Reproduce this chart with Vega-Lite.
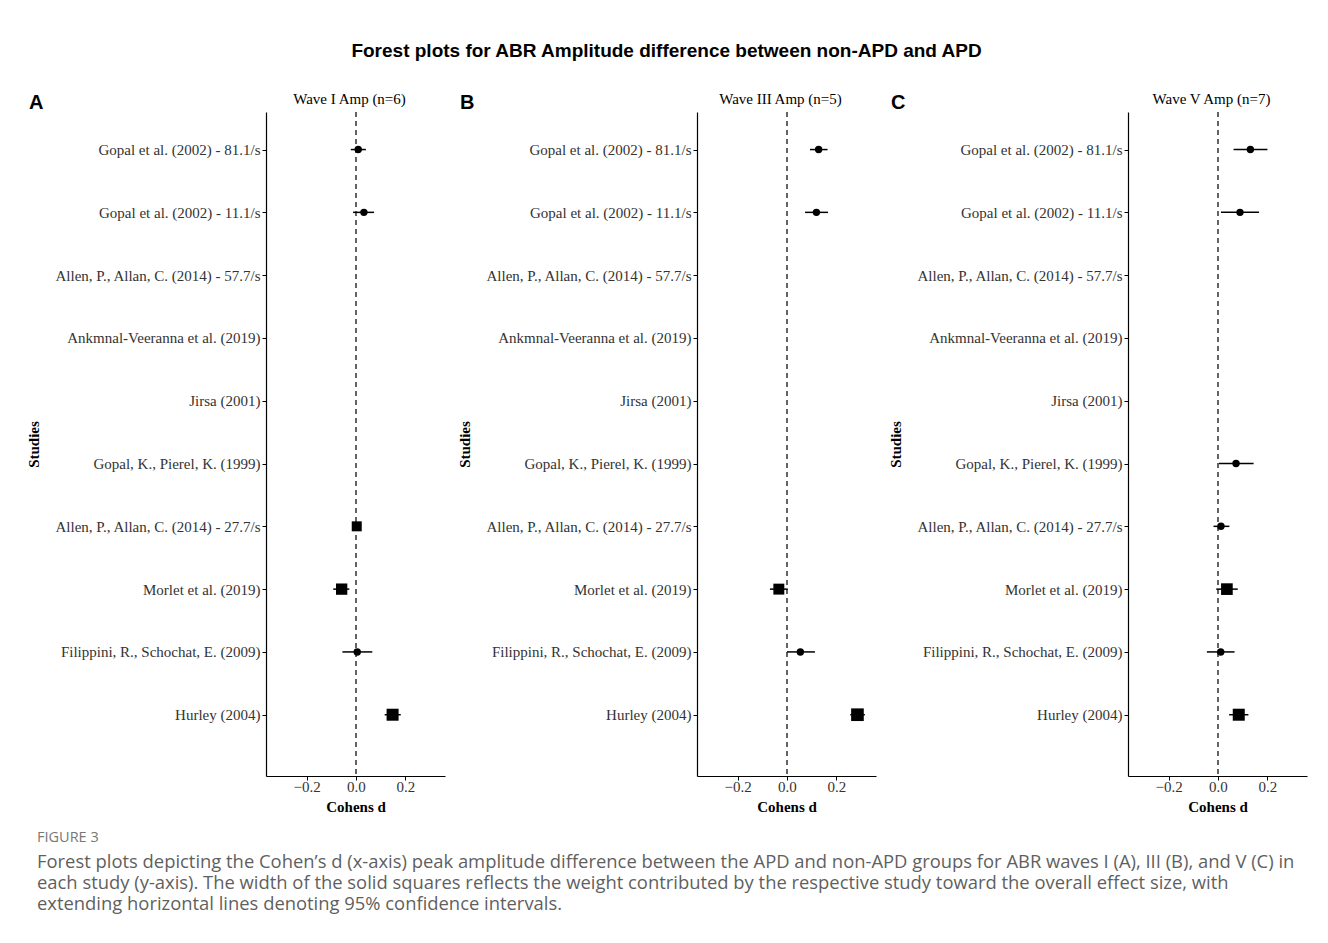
{
  "$schema": "https://vega.github.io/schema/vega-lite/v6.json",
  "background": "white",
  "padding": {"left": 26, "top": 42, "right": 5, "bottom": 5},
  "title": {
    "text": "Forest plots for ABR Amplitude difference between non-APD and APD",
    "font": "Liberation Sans", "fontSize": 19, "fontWeight": "bold", "color": "black",
    "anchor": "middle", "offset": 30
  },
  "datasets": {
    "forest": [
      {"panel": "A", "study": "Gopal et al. (2002) - 81.1/s", "est": 0.009, "lo": -0.021, "hi": 0.040, "weight": null},
      {"panel": "A", "study": "Gopal et al. (2002) - 11.1/s", "est": 0.032, "lo": -0.012, "hi": 0.073, "weight": null},
      {"panel": "A", "study": "Allen, P., Allan, C. (2014) - 27.7/s", "est": 0.003, "lo": -0.010, "hi": 0.016, "weight": 25},
      {"panel": "A", "study": "Morlet et al. (2019)", "est": -0.058, "lo": -0.092, "hi": -0.027, "weight": 32},
      {"panel": "A", "study": "Filippini, R., Schochat, E. (2009)", "est": 0.005, "lo": -0.055, "hi": 0.066, "weight": null},
      {"panel": "A", "study": "Hurley (2004)", "est": 0.148, "lo": 0.116, "hi": 0.181, "weight": 36},
      {"panel": "B", "study": "Gopal et al. (2002) - 81.1/s", "est": 0.128, "lo": 0.093, "hi": 0.164, "weight": null},
      {"panel": "B", "study": "Gopal et al. (2002) - 11.1/s", "est": 0.119, "lo": 0.073, "hi": 0.166, "weight": null},
      {"panel": "B", "study": "Morlet et al. (2019)", "est": -0.033, "lo": -0.069, "hi": 0.003, "weight": 30},
      {"panel": "B", "study": "Filippini, R., Schochat, E. (2009)", "est": 0.054, "lo": 0.0, "hi": 0.113, "weight": null},
      {"panel": "B", "study": "Hurley (2004)", "est": 0.285, "lo": 0.256, "hi": 0.315, "weight": 40},
      {"panel": "C", "study": "Gopal et al. (2002) - 81.1/s", "est": 0.131, "lo": 0.063, "hi": 0.200, "weight": null},
      {"panel": "C", "study": "Gopal et al. (2002) - 11.1/s", "est": 0.089, "lo": 0.012, "hi": 0.166, "weight": null},
      {"panel": "C", "study": "Gopal, K., Pierel, K. (1999)", "est": 0.073, "lo": 0.004, "hi": 0.144, "weight": null},
      {"panel": "C", "study": "Allen, P., Allan, C. (2014) - 27.7/s", "est": 0.012, "lo": -0.018, "hi": 0.046, "weight": null},
      {"panel": "C", "study": "Morlet et al. (2019)", "est": 0.036, "lo": -0.007, "hi": 0.080, "weight": 34},
      {"panel": "C", "study": "Filippini, R., Schochat, E. (2009)", "est": 0.011, "lo": -0.045, "hi": 0.067, "weight": null},
      {"panel": "C", "study": "Hurley (2004)", "est": 0.084, "lo": 0.045, "hi": 0.123, "weight": 36}
    ]
  },
  "vconcat": [
    {
      "title": {
        "text": "FIGURE 3",
        "subtitle": [
          "Forest plots depicting the Cohen’s d (x-axis) peak amplitude difference between the APD and non-APD groups for ABR waves I (A), III (B), and V (C) in",
          "each study (y-axis). The width of the solid squares reflects the weight contributed by the respective study toward the overall effect size, with",
          "extending horizontal lines denoting 95% confidence intervals."
        ],
        "orient": "bottom", "anchor": "start", "frame": "bounds",
        "font": "Open Sans", "fontSize": 14.5, "fontWeight": "normal", "color": "#777777",
        "subtitleFont": "Open Sans", "subtitleFontSize": 18.4, "subtitleColor": "#5f5f5f",
        "subtitleLineHeight": 21, "subtitlePadding": 7.5, "offset": 17, "dx": 11
      },
      "hconcat": [
        {
          "width": 179, "height": 664,
          "data": {"name": "forest"},
          "transform": [{"filter": {"field": "panel", "equal": "A"}}],
          "title": {"text": "A", "anchor": "start", "frame": "bounds", "font": "Liberation Sans", "fontSize": 20, "fontWeight": "bold", "color": "black", "offset": -22, "dx": 3},
          "layer": [
            {
              "data": {"values": [{}]},
              "mark": {"type": "rule", "strokeDash": [5, 4], "strokeWidth": 1.4, "color": "#222222"},
              "encoding": {"x": {"datum": 0, "type": "quantitative", "scale": {"domain": [-0.364, 0.36], "nice": false, "zero": false},
                "axis": {"orient": "top", "title": "Wave I Amp (n=6)", "labels": false, "ticks": false, "domain": false, "grid": false, "titleFont": "Liberation Serif", "titleFontSize": 15, "titleFontWeight": "normal", "titleColor": "black", "titleX": 83, "titleAlign": "center", "titleY": -9, "titleBaseline": "alphabetic"}}}
            },
            {
              "mark": {"type": "rule", "strokeWidth": 1.5, "color": "black"},
              "encoding": {
                "y": {"field": "study", "type": "nominal", "scale": {"type": "point", "domain": ["Gopal et al. (2002) - 81.1/s", "Gopal et al. (2002) - 11.1/s", "Allen, P., Allan, C. (2014) - 57.7/s", "Ankmnal-Veeranna et al. (2019)", "Jirsa (2001)", "Gopal, K., Pierel, K. (1999)", "Allen, P., Allan, C. (2014) - 27.7/s", "Morlet et al. (2019)", "Filippini, R., Schochat, E. (2009)", "Hurley (2004)"], "padding": 0.787, "align": 0.38},
                  "axis": {"title": "Studies", "titleFont": "Liberation Serif", "titleFontSize": 15, "titleFontWeight": "bold", "titleColor": "black", "titleX": -233, "titleY": 332, "titleAngle": -90, "titleAlign": "center", "titleBaseline": "middle", "labelFont": "Liberation Serif", "labelFontSize": 15, "labelColor": "#333333", "domainColor": "black", "domainWidth": 1.2, "tickColor": "black", "tickSize": 4, "labelPadding": 2, "grid": false, "labelLimit": 400}},
                "x": {"field": "lo", "type": "quantitative", "axis": {"title": "Cohens d", "values": [-0.2, 0, 0.2], "format": ".1f", "labelFont": "Liberation Serif", "labelFontSize": 15, "labelColor": "#333333", "titleFont": "Liberation Serif", "titleFontSize": 15, "titleFontWeight": "bold", "titleColor": "black", "titleY": 35, "titleBaseline": "alphabetic", "domainColor": "black", "domainWidth": 1.2, "tickColor": "black", "tickSize": 4, "grid": false, "labelPadding": -1}},
                "x2": {"field": "hi"}
              }
            },
            {
              "transform": [{"filter": {"not": {"field": "weight", "valid": true}}}],
              "mark": {"type": "point", "shape": "circle", "filled": true, "color": "black", "opacity": 1, "size": 55},
              "encoding": {
                "y": {"field": "study", "type": "nominal"},
                "x": {"field": "est", "type": "quantitative", "axis": null}
              }
            },
            {
              "transform": [{"filter": {"field": "weight", "valid": true}}],
              "mark": {"type": "point", "shape": "square", "filled": true, "color": "black", "opacity": 1},
              "encoding": {
                "y": {"field": "study", "type": "nominal"},
                "x": {"field": "est", "type": "quantitative", "axis": null},
                "size": {"field": "weight", "type": "quantitative", "scale": {"domain": [0, 50], "range": [0, 200]}, "legend": null}
              }
            }
          ],
          "resolve": {"axis": {"x": "independent"}}
        },
        {
          "width": 179, "height": 664,
          "data": {"name": "forest"},
          "transform": [{"filter": {"field": "panel", "equal": "B"}}],
          "title": {"text": "B", "anchor": "start", "frame": "bounds", "font": "Liberation Sans", "fontSize": 20, "fontWeight": "bold", "color": "black", "offset": -22, "dx": 3},
          "layer": [
            {
              "data": {"values": [{}]},
              "mark": {"type": "rule", "strokeDash": [5, 4], "strokeWidth": 1.4, "color": "#222222"},
              "encoding": {"x": {"datum": 0, "type": "quantitative", "scale": {"domain": [-0.364, 0.36], "nice": false, "zero": false},
                "axis": {"orient": "top", "title": "Wave III Amp (n=5)", "labels": false, "ticks": false, "domain": false, "grid": false, "titleFont": "Liberation Serif", "titleFontSize": 15, "titleFontWeight": "normal", "titleColor": "black", "titleX": 83, "titleAlign": "center", "titleY": -9, "titleBaseline": "alphabetic"}}}
            },
            {
              "mark": {"type": "rule", "strokeWidth": 1.5, "color": "black"},
              "encoding": {
                "y": {"field": "study", "type": "nominal", "scale": {"type": "point", "domain": ["Gopal et al. (2002) - 81.1/s", "Gopal et al. (2002) - 11.1/s", "Allen, P., Allan, C. (2014) - 57.7/s", "Ankmnal-Veeranna et al. (2019)", "Jirsa (2001)", "Gopal, K., Pierel, K. (1999)", "Allen, P., Allan, C. (2014) - 27.7/s", "Morlet et al. (2019)", "Filippini, R., Schochat, E. (2009)", "Hurley (2004)"], "padding": 0.787, "align": 0.38},
                  "axis": {"title": "Studies", "titleFont": "Liberation Serif", "titleFontSize": 15, "titleFontWeight": "bold", "titleColor": "black", "titleX": -233, "titleY": 332, "titleAngle": -90, "titleAlign": "center", "titleBaseline": "middle", "labelFont": "Liberation Serif", "labelFontSize": 15, "labelColor": "#333333", "domainColor": "black", "domainWidth": 1.2, "tickColor": "black", "tickSize": 4, "labelPadding": 2, "grid": false, "labelLimit": 400}},
                "x": {"field": "lo", "type": "quantitative", "axis": {"title": "Cohens d", "values": [-0.2, 0, 0.2], "format": ".1f", "labelFont": "Liberation Serif", "labelFontSize": 15, "labelColor": "#333333", "titleFont": "Liberation Serif", "titleFontSize": 15, "titleFontWeight": "bold", "titleColor": "black", "titleY": 35, "titleBaseline": "alphabetic", "domainColor": "black", "domainWidth": 1.2, "tickColor": "black", "tickSize": 4, "grid": false, "labelPadding": -1}},
                "x2": {"field": "hi"}
              }
            },
            {
              "transform": [{"filter": {"not": {"field": "weight", "valid": true}}}],
              "mark": {"type": "point", "shape": "circle", "filled": true, "color": "black", "opacity": 1, "size": 55},
              "encoding": {
                "y": {"field": "study", "type": "nominal"},
                "x": {"field": "est", "type": "quantitative", "axis": null}
              }
            },
            {
              "transform": [{"filter": {"field": "weight", "valid": true}}],
              "mark": {"type": "point", "shape": "square", "filled": true, "color": "black", "opacity": 1},
              "encoding": {
                "y": {"field": "study", "type": "nominal"},
                "x": {"field": "est", "type": "quantitative", "axis": null},
                "size": {"field": "weight", "type": "quantitative", "scale": {"domain": [0, 50], "range": [0, 200]}, "legend": null}
              }
            }
          ],
          "resolve": {"axis": {"x": "independent"}}
        },
        {
          "width": 179, "height": 664,
          "data": {"name": "forest"},
          "transform": [{"filter": {"field": "panel", "equal": "C"}}],
          "title": {"text": "C", "anchor": "start", "frame": "bounds", "font": "Liberation Sans", "fontSize": 20, "fontWeight": "bold", "color": "black", "offset": -22, "dx": 3},
          "layer": [
            {
              "data": {"values": [{}]},
              "mark": {"type": "rule", "strokeDash": [5, 4], "strokeWidth": 1.4, "color": "#222222"},
              "encoding": {"x": {"datum": 0, "type": "quantitative", "scale": {"domain": [-0.364, 0.36], "nice": false, "zero": false},
                "axis": {"orient": "top", "title": "Wave V Amp (n=7)", "labels": false, "ticks": false, "domain": false, "grid": false, "titleFont": "Liberation Serif", "titleFontSize": 15, "titleFontWeight": "normal", "titleColor": "black", "titleX": 83, "titleAlign": "center", "titleY": -9, "titleBaseline": "alphabetic"}}}
            },
            {
              "mark": {"type": "rule", "strokeWidth": 1.5, "color": "black"},
              "encoding": {
                "y": {"field": "study", "type": "nominal", "scale": {"type": "point", "domain": ["Gopal et al. (2002) - 81.1/s", "Gopal et al. (2002) - 11.1/s", "Allen, P., Allan, C. (2014) - 57.7/s", "Ankmnal-Veeranna et al. (2019)", "Jirsa (2001)", "Gopal, K., Pierel, K. (1999)", "Allen, P., Allan, C. (2014) - 27.7/s", "Morlet et al. (2019)", "Filippini, R., Schochat, E. (2009)", "Hurley (2004)"], "padding": 0.787, "align": 0.38},
                  "axis": {"title": "Studies", "titleFont": "Liberation Serif", "titleFontSize": 15, "titleFontWeight": "bold", "titleColor": "black", "titleX": -233, "titleY": 332, "titleAngle": -90, "titleAlign": "center", "titleBaseline": "middle", "labelFont": "Liberation Serif", "labelFontSize": 15, "labelColor": "#333333", "domainColor": "black", "domainWidth": 1.2, "tickColor": "black", "tickSize": 4, "labelPadding": 2, "grid": false, "labelLimit": 400}},
                "x": {"field": "lo", "type": "quantitative", "axis": {"title": "Cohens d", "values": [-0.2, 0, 0.2], "format": ".1f", "labelFont": "Liberation Serif", "labelFontSize": 15, "labelColor": "#333333", "titleFont": "Liberation Serif", "titleFontSize": 15, "titleFontWeight": "bold", "titleColor": "black", "titleY": 35, "titleBaseline": "alphabetic", "domainColor": "black", "domainWidth": 1.2, "tickColor": "black", "tickSize": 4, "grid": false, "labelPadding": -1}},
                "x2": {"field": "hi"}
              }
            },
            {
              "transform": [{"filter": {"not": {"field": "weight", "valid": true}}}],
              "mark": {"type": "point", "shape": "circle", "filled": true, "color": "black", "opacity": 1, "size": 55},
              "encoding": {
                "y": {"field": "study", "type": "nominal"},
                "x": {"field": "est", "type": "quantitative", "axis": null}
              }
            },
            {
              "transform": [{"filter": {"field": "weight", "valid": true}}],
              "mark": {"type": "point", "shape": "square", "filled": true, "color": "black", "opacity": 1},
              "encoding": {
                "y": {"field": "study", "type": "nominal"},
                "x": {"field": "est", "type": "quantitative", "axis": null},
                "size": {"field": "weight", "type": "quantitative", "scale": {"domain": [0, 50], "range": [0, 200]}, "legend": null}
              }
            }
          ],
          "resolve": {"axis": {"x": "independent"}}
        }
      ],
      "spacing": 252,
      "bounds": "flush"
    }
  ],
  "config": {
    "view": {"stroke": null},
    "axis": {"grid": false}
  }
}
